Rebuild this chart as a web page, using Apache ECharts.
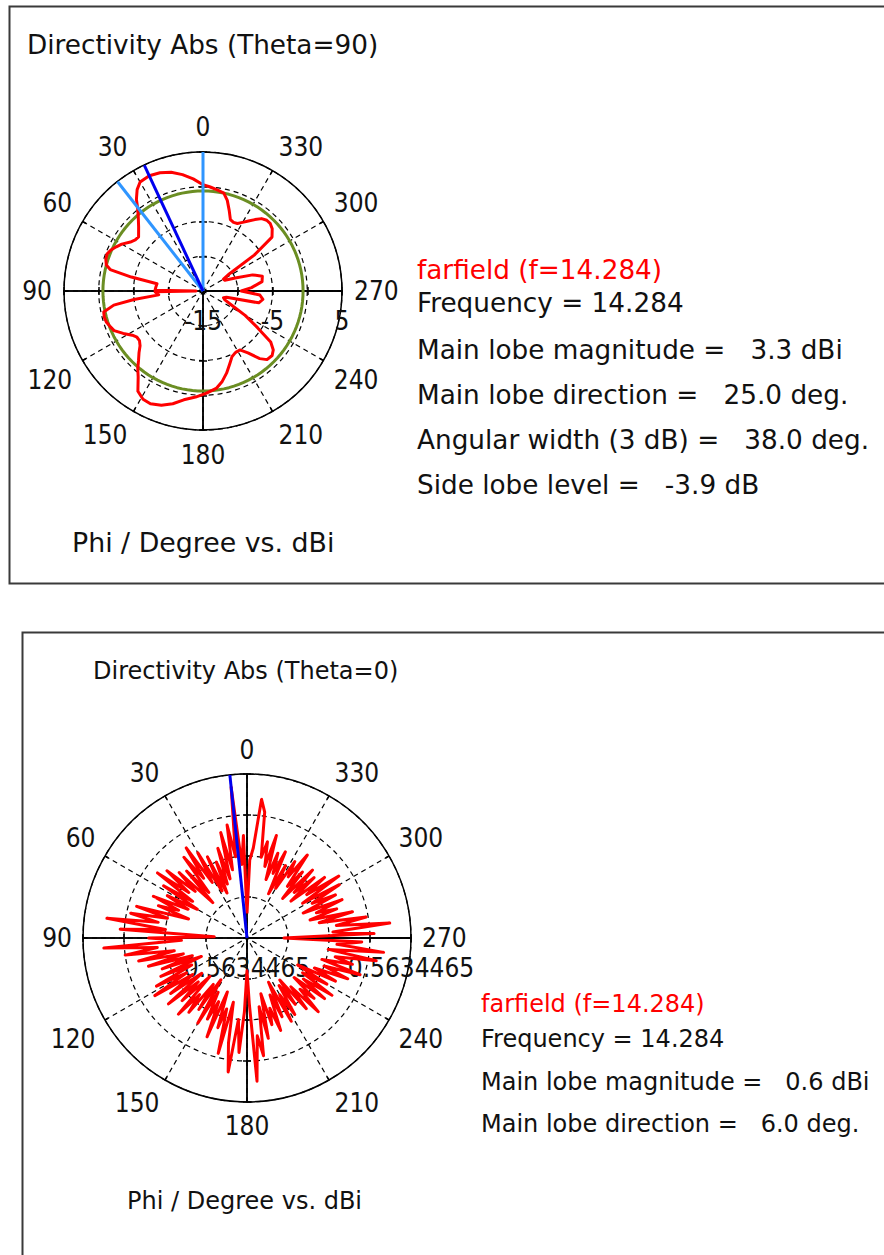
<!DOCTYPE html>
<html>
<head>
<meta charset="utf-8">
<title>Directivity Abs</title>
<script src="https://cdn.jsdelivr.net/npm/echarts@6/dist/echarts.min.js"></script>
<style>
  html, body { margin: 0; padding: 0; background: #ffffff; }
  #chart { width: 884px; height: 1255px; }
</style>
</head>
<body>
<div id="chart"></div>
<script>
// ---- Theta = 90 cut: phi (deg) and directivity (dBi) ----
const phi90Angles = [
  0, 5, 10, 15, 20, 25, 30, 33, 36, 38, 41, 45, 50, 53, 56, 60, 63, 66, 69, 72,
  75, 77, 79, 81, 85, 89, 90, 91, 95, 97, 99, 102, 105, 108, 111, 114, 118, 122, 125, 128,
  131, 134, 137, 140, 143, 147, 151, 155, 160, 165, 170, 176, 182, 188, 192, 196, 200, 204, 208, 212,
  216, 220, 223, 227, 230, 233, 236, 240, 244, 248, 252, 255, 258, 262, 266, 270, 274, 279, 284, 288,
  292, 296, 300, 303, 305, 308, 312, 315, 318, 321, 324, 327, 330, 333, 336, 339, 342, 345, 348, 352,
  356, 360
];
const phi90Dbi = [
  0.3, 1.2, 2.0, 2.7, 3.1, 3.3, 3.1, 2.4, 1.3, 0.3, -0.8, -1.9, -2.9, -2.8, -2.4, -1.5, -1.0, -0.5, -0.2, -0.3,
  -0.6, -1.3, -4.5, -8.3, -8.2, -8.1, -14.0, -8.1, -8.6, -5.0, -2.0, -0.4, -0.3, -0.4, -0.7, -1.0, -2.0, -3.0, -3.4, -3.4,
  -3.0, -2.2, -1.4, -0.4, 0.5, 2.2, 2.8, 2.9, 2.5, 1.8, 0.9, 0.3, -0.3, -0.9, -1.7, -2.7, -3.8, -4.7, -5.0, -5.0,
  -4.0, -2.3, -1.5, -1.4, -1.8, -2.8, -5.5, -8.0, -10.5, -11.6, -11.9, -11.5, -6.8, -6.3, -6.8, -9.5, -8.0, -6.4, -6.2, -7.5,
  -10.0, -11.5, -11.6, -10.5, -6.0, -2.4, -1.6, -1.3, -1.3, -1.6, -2.3, -3.0, -3.6, -4.1, -4.2, -4.0, -2.8, -1.5, -0.6, -0.3,
  0.0, 0.3
];
const frequency = 14.284;
const mainLobeMag90 = 3.3;        // dBi
const mainLobeDir90 = 25.0;       // deg
const beamEdges90 = [0, 38];      // 3 dB edges, deg
const sideLobeLevel90 = -3.9;     // dB relative to main lobe
const radialTicks90 = [-15, 5, 5]; // min, max, step

// ---- Theta = 0 cut: directivity every 2 deg of phi (dBi) ----
const phi0Dbi = [
  0.563446472, 0.563446510, 0.563446496, 0.563446534, 0.563446500, 0.563446516, 0.563446494, 0.563446513, 0.563446490, 0.563446506,
  0.563446488, 0.563446500, 0.563446484, 0.563446504, 0.563446486, 0.563446508, 0.563446492, 0.563446513, 0.563446496, 0.563446510,
  0.563446489, 0.563446504, 0.563446484, 0.563446506, 0.563446494, 0.563446511, 0.563446496, 0.563446514, 0.563446492, 0.563446508,
  0.563446488, 0.563446504, 0.563446492, 0.563446510, 0.563446496, 0.563446506, 0.563446490, 0.563446516, 0.563446500, 0.563446518,
  0.563446504, 0.563446529, 0.563446500, 0.563446522, 0.563446476, 0.563446508, 0.563446492, 0.563446530, 0.563446504, 0.563446520,
  0.563446496, 0.563446514, 0.563446492, 0.563446510, 0.563446488, 0.563446504, 0.563446484, 0.563446506, 0.563446490, 0.563446510,
  0.563446494, 0.563446513, 0.563446492, 0.563446506, 0.563446488, 0.563446510, 0.563446492, 0.563446504, 0.563446486, 0.563446510,
  0.563446496, 0.563446506, 0.563446488, 0.563446502, 0.563446484, 0.563446508, 0.563446490, 0.563446504, 0.563446494, 0.563446512,
  0.563446488, 0.563446506, 0.563446496, 0.563446518, 0.563446492, 0.563446512, 0.563446526, 0.563446500, 0.563446516, 0.563446496,
  0.563446476, 0.563446492, 0.563446530, 0.563446508, 0.563446518, 0.563446494, 0.563446510, 0.563446488, 0.563446504, 0.563446496,
  0.563446508, 0.563446490, 0.563446502, 0.563446484, 0.563446506, 0.563446492, 0.563446504, 0.563446488, 0.563446500, 0.563446486,
  0.563446505, 0.563446492, 0.563446510, 0.563446496, 0.563446504, 0.563446490, 0.563446508, 0.563446494, 0.563446510, 0.563446492,
  0.563446505, 0.563446488, 0.563446508, 0.563446496, 0.563446513, 0.563446500, 0.563446518, 0.563446498, 0.563446513, 0.563446504,
  0.563446524, 0.563446500, 0.563446527, 0.563446504, 0.563446516, 0.563446478, 0.563446522, 0.563446502, 0.563446530, 0.563446504,
  0.563446519, 0.563446496, 0.563446513, 0.563446492, 0.563446506, 0.563446496, 0.563446510, 0.563446490, 0.563446508, 0.563446496,
  0.563446512, 0.563446492, 0.563446514, 0.563446496, 0.563446508, 0.563446488, 0.563446504, 0.563446492, 0.563446506, 0.563446486,
  0.563446502, 0.563446492, 0.563446510, 0.563446496, 0.563446504, 0.563446488, 0.563446500, 0.563446484, 0.563446506, 0.563446494,
  0.563446504, 0.563446490, 0.563446512, 0.563446496, 0.563446508, 0.563446500, 0.563446522, 0.563446528, 0.563446504, 0.563446498
];
const phi0Step = 2;
const mainLobeMag0 = 0.6;         // dBi
const mainLobeDir0 = 6.0;         // deg
const radialTicks0 = [0.56344646, 0.56344654, 0.00000002];

// ---- Text ----
const titleTop = 'Directivity Abs (Theta=90)';
const titleBottom = 'Directivity Abs (Theta=0)';
const axisCaption = 'Phi / Degree vs. dBi';

const LABEL_FONT = "'DejaVu Sans Condensed', 'Liberation Sans', sans-serif";
const TEXT_FONT = "'DejaVu Sans', 'Liberation Sans', sans-serif";
const INK = '#111111';

// phi is counted counter-clockwise from the top; the angle axis starts at the right.
const toAxisAngle = phi => (phi + 90) % 360;

const polar = [], angleAxis = [], radiusAxis = [];

function addPolarFrame(cfg) {
  const idx = polar.length;
  polar.push({ center: cfg.center, radius: cfg.radius });
  angleAxis.push({
    polarIndex: idx, type: 'value', min: 0, max: 360, interval: 30,
    startAngle: 0, clockwise: false, z: 1,
    axisLine: { show: true, lineStyle: { color: '#000', width: 1.5 } },
    axisTick: { show: true, inside: true, length: 4, lineStyle: { color: '#000', width: 1.5 } },
    axisLabel: {
      show: true, margin: cfg.labelMargin, color: INK, fontSize: 26, fontFamily: LABEL_FONT,
      formatter: v => String((v + 270) % 360)
    },
    splitLine: { show: true, lineStyle: { color: '#000', width: 1.2, type: [5, 4] } }
  });
  radiusAxis.push({
    polarIndex: idx, type: 'value', min: cfg.ticks[0], max: cfg.ticks[1], interval: cfg.ticks[2], z: 1,
    axisLine: { show: true, lineStyle: { color: '#000', width: 1.5 } },
    axisTick: { show: false },
    axisLabel: {
      show: true, margin: -17, verticalAlign: 'top', color: INK, fontSize: 26, fontFamily: LABEL_FONT,
      formatter: cfg.radiusFormatter
    },
    splitLine: { show: true, lineStyle: { color: '#000', width: 1.2, type: [5, 4] } }
  });
  // solid axis rays (up, left, down, right) with ticks on both sides
  [0, 90, 180, 270].forEach(dir => [4, -4].forEach(len => {
    const k = polar.length;
    polar.push({ center: cfg.center, radius: cfg.radius });
    angleAxis.push({ polarIndex: k, type: 'value', min: 0, max: 360, startAngle: dir, clockwise: false, show: false });
    radiusAxis.push({
      polarIndex: k, type: 'value', min: cfg.ticks[0], max: cfg.ticks[1], interval: cfg.ticks[2], z: 1,
      axisLine: { show: true, lineStyle: { color: '#000', width: 1.5 } },
      axisTick: { show: true, length: len, lineStyle: { color: '#000', width: 1.5 } },
      axisLabel: { show: false },
      splitLine: { show: false }
    });
  }));
  return idx;
}

const topPolar = addPolarFrame({
  center: [203, 291], radius: 139, labelMargin: 12, ticks: radialTicks90,
  radiusFormatter: (v, i) => (i % 2 === 0 ? String(Math.round(v)) : '')
});
const bottomPolar = addPolarFrame({
  center: [247, 938], radius: 164, labelMargin: 11, ticks: radialTicks0,
  radiusFormatter: (v, i) => (i === 0 || i === 4 ? v.toFixed(7) : '')
});

function ray(level0, level1, phi) {
  return [[level0, toAxisAngle(phi)], [level1, toAxisAngle(phi)]];
}
function lineSeries(polarIndex, data, color, width, z) {
  return {
    type: 'line', coordinateSystem: 'polar', polarIndex, data,
    showSymbol: false, symbol: 'none', silent: true, animation: false, z: z || 2,
    lineStyle: { color, width, join: 'round' }
  };
}

// Theta=90 curves
const sideLobeAbs = mainLobeMag90 + sideLobeLevel90;
const sideLobeCircle = [];
for (let a = 0; a <= 360; a += 3) sideLobeCircle.push([sideLobeAbs, a]);
const curve90 = phi90Angles.map((p, i) => [phi90Dbi[i], toAxisAngle(p)]);

// Theta=0 curve
const curve0 = phi0Dbi.map((v, i) => [v, toAxisAngle(i * phi0Step)]);
curve0.push(curve0[0]);

const series = [
  lineSeries(topPolar, sideLobeCircle, '#6b8e23', 3, 2),
  lineSeries(topPolar, curve90, '#ff0000', 3, 3),
  lineSeries(topPolar, ray(radialTicks90[0], radialTicks90[1], beamEdges90[0]), '#2f95ff', 3, 4),
  lineSeries(topPolar, ray(radialTicks90[0], radialTicks90[1], beamEdges90[1]), '#2f95ff', 3, 4),
  lineSeries(topPolar, ray(radialTicks90[0], radialTicks90[1], mainLobeDir90), '#0000ee', 3, 5),
  lineSeries(bottomPolar, curve0, '#ff0000', 3, 3),
  lineSeries(bottomPolar, ray(radialTicks0[0], radialTicks0[1], mainLobeDir0), '#0000ee', 3, 5)
];

const TOP_SIZE = 26.3;
const BOTTOM_SIZE = 24;
const texts = [
  { x: 27, y: 45, size: TOP_SIZE, text: titleTop },
  { x: 417, y: 270, size: TOP_SIZE, text: `farfield (f=${frequency.toFixed(3)})`, color: '#ff0000' },
  { x: 417, y: 303, size: TOP_SIZE, text: `Frequency = ${frequency.toFixed(3)}` },
  { x: 417, y: 350, size: TOP_SIZE, text: `Main lobe magnitude =   ${mainLobeMag90.toFixed(1)} dBi` },
  { x: 417, y: 395, size: TOP_SIZE, text: `Main lobe direction =   ${mainLobeDir90.toFixed(1)} deg.` },
  { x: 417, y: 440, size: TOP_SIZE, text: `Angular width (3 dB) =   ${(beamEdges90[1] - beamEdges90[0]).toFixed(1)} deg.` },
  { x: 417, y: 485, size: TOP_SIZE, text: `Side lobe level =   ${sideLobeLevel90.toFixed(1)} dB` },
  { x: 72, y: 542, size: 26.8, text: axisCaption },
  { x: 93, y: 671, size: BOTTOM_SIZE, text: titleBottom },
  { x: 481, y: 1004, size: BOTTOM_SIZE, text: `farfield (f=${frequency.toFixed(3)})`, color: '#ff0000' },
  { x: 481, y: 1039, size: BOTTOM_SIZE, text: `Frequency = ${frequency.toFixed(3)}` },
  { x: 481, y: 1082, size: BOTTOM_SIZE, text: `Main lobe magnitude =   ${mainLobeMag0.toFixed(1)} dBi` },
  { x: 481, y: 1124, size: BOTTOM_SIZE, text: `Main lobe direction =   ${mainLobeDir0.toFixed(1)} deg.` },
  { x: 127, y: 1201, size: BOTTOM_SIZE, text: axisCaption }
];

const graphic = [
  { type: 'rect', silent: true, shape: { x: 9.5, y: 6.5, width: 900, height: 577 },
    style: { fill: 'none', stroke: '#3a3a3a', lineWidth: 2 } },
  { type: 'rect', silent: true, shape: { x: 22.5, y: 632.5, width: 900, height: 700 },
    style: { fill: 'none', stroke: '#3a3a3a', lineWidth: 2 } }
].concat(texts.map(t => ({
  type: 'text', silent: true, x: t.x, y: t.y,
  style: {
    text: t.text, fill: t.color || INK, fontSize: t.size, fontFamily: TEXT_FONT,
    align: 'left', verticalAlign: 'middle'
  }
})));

const chart = echarts.init(document.getElementById('chart'), null, { renderer: 'svg', width: 884, height: 1255 });
chart.setOption({
  backgroundColor: '#ffffff',
  animation: false,
  polar, angleAxis, radiusAxis,
  series,
  graphic
});
</script>
</body>
</html>
